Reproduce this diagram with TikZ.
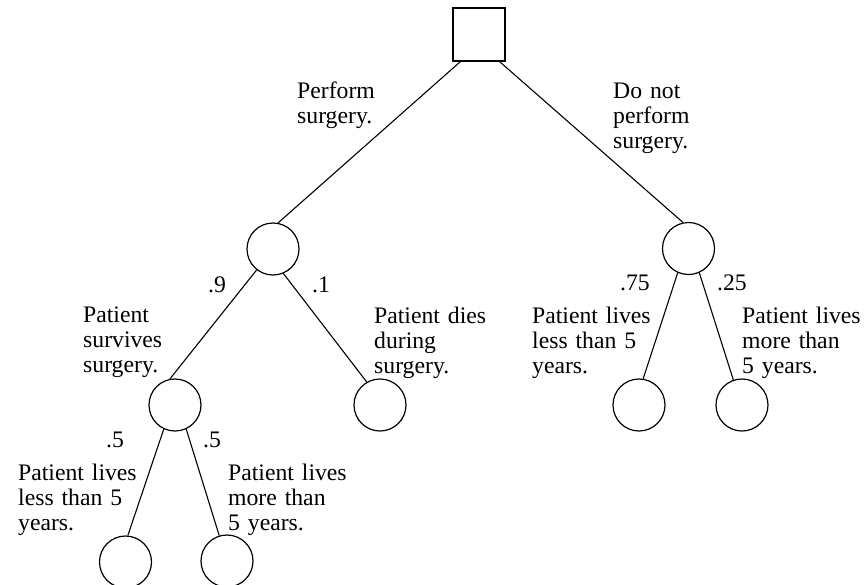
\documentclass[tikz,border=0pt]{standalone}
\usepackage{fontspec}
\setmainfont{Liberation Serif}
\begin{document}
\begin{tikzpicture}[x=1pt,y=-1pt,
  chance/.style={draw, circle, minimum size=52pt, inner sep=0pt, line width=1.2pt},
  decision/.style={draw, rectangle, minimum width=52pt, minimum height=53pt, inner sep=0pt, line width=1.2pt},
  branch/.style={line width=1.1pt},
  lbl/.style={anchor=base west, inner sep=0pt, text width=170pt, align=left, font=\fontsize{23.7}{25}\selectfont},
  prob/.style={anchor=base west, inner sep=0pt, font=\fontsize{23.7}{25}\selectfont}]
\useasboundingbox (0,0) rectangle (864,584);
% nodes
\node[decision] (sq) at (479,34.5) {};
\node[chance] (A) at (273,249) {};
\node[chance] (B) at (688.5,248.5) {};
\node[chance] (C) at (175,405) {};
\node[chance] (D) at (380,405) {};
\node[chance] (B1) at (639,405) {};
\node[chance] (B2) at (742,405) {};
\node[chance] (C1) at (125.5,562) {};
\node[chance] (C2) at (227,561) {};
% connectors
\draw[branch] ([xshift=8pt]sq.south west) -- (A.79);
\draw[branch] ([xshift=-6pt]sq.south east) -- (B.102);
\draw[branch] (A.232) -- (C.101);
\draw[branch] (A.293) -- (D.120);
\draw[branch] (B.246) -- (B1.81);
\draw[branch] (B.294) -- (B2.109);
\draw[branch] (C.245) -- (C1.85);
\draw[branch] (C.295) -- (C2.107);
% labels
\node[lbl] (lperf) at (297,98) {Perform\\surgery.};
\node[lbl] (lnot) at (613,98) {Do not\\perform\\surgery.};
\node[prob] (p9) at (208,292) {.9};
\node[prob] (p1) at (312,292) {.1};
\node[lbl] (lsurv) at (83,322) {Patient\\survives\\surgery.};
\node[lbl] (ldies) at (374,323) {Patient dies\\during\\surgery.};
\node[prob] (p75) at (620,290) {.75};
\node[prob] (p25) at (717,290) {.25};
\node[lbl] (lbless) at (532,323) {Patient lives\\less than 5\\years.};
\node[lbl] (lbmore) at (742,323) {Patient lives\\more than\\5 years.};
\node[prob] (p5a) at (106,447) {.5};
\node[prob] (p5b) at (203,447) {.5};
\node[lbl] (lcless) at (18,480) {Patient lives\\less than 5\\years.};
\node[lbl] (lcmore) at (228,480) {Patient lives\\more than\\5 years.};
\end{tikzpicture}
\end{document}
